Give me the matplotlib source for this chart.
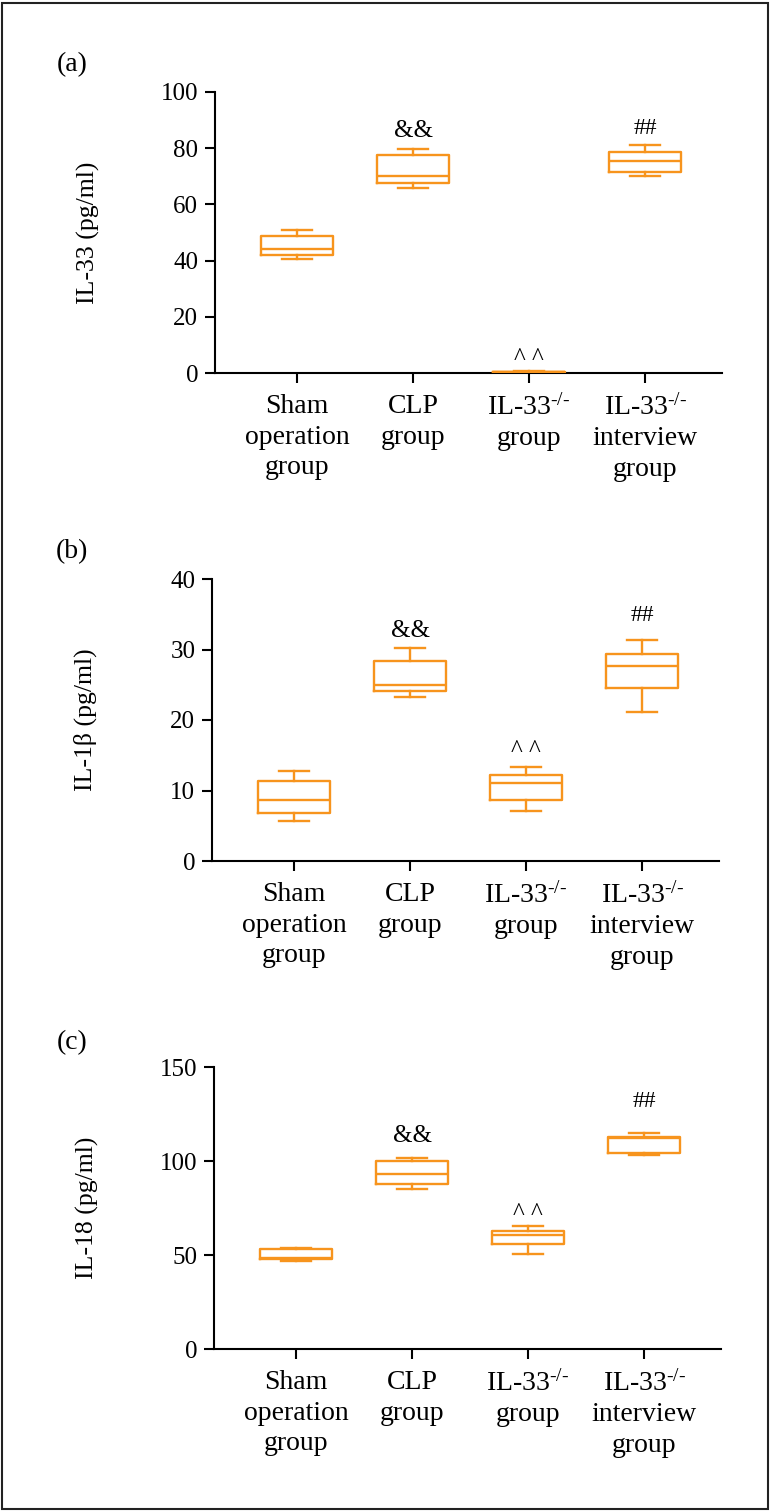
import matplotlib
matplotlib.use("Agg")
import matplotlib.pyplot as plt
from matplotlib.patches import Rectangle

plt.rcParams['font.family'] = ['Liberation Serif', 'DejaVu Serif']
plt.rcParams['mathtext.fontset'] = 'custom'
plt.rcParams['mathtext.rm'] = 'Liberation Serif'
plt.rcParams['mathtext.it'] = 'Liberation Serif:italic'

# group names
groups = ['Sham\noperation\ngroup', 'CLP\ngroup', r'IL-33$^{\text{-/-}}$' + '\ngroup',
          r'IL-33$^{\text{-/-}}$' + '\ninterview\ngroup']

# box stats per panel: whisker low, q1, median, q3, whisker high
il33_lo = [40.6, 66.0, 0.2, 70.0]
il33_q1 = [42.0, 67.5, 0.3, 71.7]
il33_med = [44.0, 70.0, 0.4, 75.3]
il33_q3 = [48.6, 77.5, 0.5, 78.5]
il33_hi = [51.0, 79.6, 0.6, 81.0]

il1b_lo = [5.7, 23.3, 7.1, 21.2]
il1b_q1 = [6.8, 24.1, 8.7, 24.5]
il1b_med = [8.6, 25.0, 11.0, 27.6]
il1b_q3 = [11.3, 28.4, 12.2, 29.4]
il1b_hi = [12.8, 30.2, 13.3, 31.3]

il18_lo = [47.0, 85.0, 50.5, 103.0]
il18_q1 = [47.8, 88.0, 55.7, 104.0]
il18_med = [48.3, 93.0, 60.4, 112.0]
il18_q3 = [53.0, 100.2, 63.0, 112.6]
il18_hi = [53.8, 101.6, 65.3, 115.0]

# significance marks (group index, y value, text)
il33_marks = [(1, 86, '&&'), (3, 87, '##'), (2, 5, '^ ^')]
il1b_marks = [(1, 32.6, '&&'), (3, 34.8, '##'), (2, 15.6, '^ ^')]
il18_marks = [(1, 113.5, '&&'), (3, 131.5, '##'), (2, 72, '^ ^')]

orange = '#F7941D'
W, H = 771, 1511
fig = plt.figure(figsize=(W / 100, H / 100), dpi=100)

# border around the whole figure
fig.patches.append(Rectangle((2 / W, 2 / H), 766 / W, 1506 / H, transform=fig.transFigure,
                             fill=False, edgecolor='#222222', lw=1.5))

panels = [
    ('(a)', 'IL-33 (pg/ml)', il33_lo, il33_q1, il33_med, il33_q3, il33_hi, il33_marks,
     100, [0, 20, 40, 60, 80, 100], (215, 92, 373), 65),
    ('(b)', 'IL-1β (pg/ml)', il1b_lo, il1b_q1, il1b_med, il1b_q3, il1b_hi, il1b_marks,
     40, [0, 10, 20, 30, 40], (212, 579, 861), 552),
    ('(c)', 'IL-18 (pg/ml)', il18_lo, il18_q1, il18_med, il18_q3, il18_hi, il18_marks,
     150, [0, 50, 100, 150], (214, 1067, 1349), 1043),
]

for tag, ylab, lo, q1, med, q3, hi, marks, ymax, yticks, (left, top, bottom), tag_y in panels:
    ax = fig.add_axes([left / W, 1 - bottom / H, 507 / W, (bottom - top) / H])
    stats = []
    for i in range(4):
        stats.append({'whislo': lo[i], 'q1': q1[i], 'med': med[i], 'q3': q3[i],
                      'whishi': hi[i], 'fliers': []})
    props = dict(color=orange, lw=1.7)
    ax.bxp(stats, positions=[1, 2, 3, 4], widths=0.62, capwidths=0.26, showfliers=False,
           boxprops=props, whiskerprops=props, capprops=props, medianprops=props)
    for idx, yv, txt in marks:
        fs = {'&&': 18, '##': 17, '^ ^': 18}[txt]
        ax.text(idx + 1, yv, txt, ha='center', va='center', fontsize=fs, color='black')

    ax.set_xlim(0.293, 4.663)
    ax.set_ylim(0, ymax)
    ax.set_yticks(yticks)
    ax.set_xticks([1, 2, 3, 4])
    ax.set_xticklabels(groups, fontsize=20, linespacing=1.3)
    for s in ['top', 'right']:
        ax.spines[s].set_visible(False)
    for s in ['left', 'bottom']:
        ax.spines[s].set_linewidth(1.5)
        ax.spines[s].set_zorder(1)
    ax.tick_params(direction='out', length=7, width=1.5, pad=5)
    ax.tick_params(axis='y', labelsize=18)
    ax.tick_params(axis='x', pad=8)
    ax.set_ylabel(ylab, fontsize=18.5)
    ax.yaxis.set_label_coords(-0.227, 0.5)
    fig.text(72 / W, 1 - tag_y / H, tag, ha='center', va='center', fontsize=20)

fig.savefig('out.png', dpi=100)
